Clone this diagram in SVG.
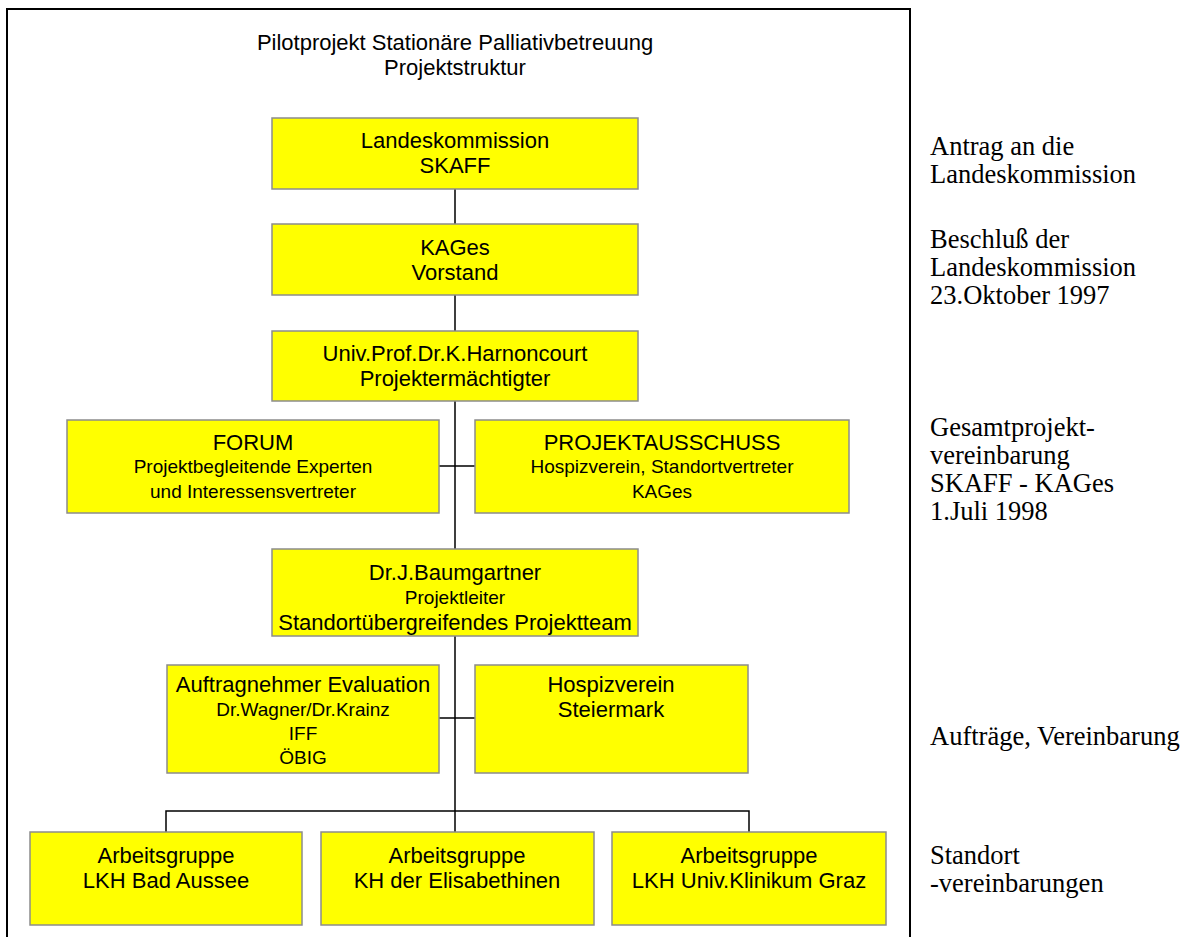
<svg xmlns="http://www.w3.org/2000/svg" width="1195" height="937" viewBox="0 0 1195 937">
<style>
.box{fill:#ffff00;stroke:#8c8c8c;stroke-width:1.5}
.t{font-family:"Liberation Sans",Arial,sans-serif;fill:#000;text-anchor:middle}
.m{font-size:22px}
.s{font-size:19px}
.r{font-family:"Liberation Serif","Times New Roman",serif;font-size:26.5px;fill:#000}
.c{stroke:#000;stroke-width:1.5;fill:none}
</style>
<rect x="7" y="9" width="903" height="940" fill="#fff" stroke="#000" stroke-width="2"/>
<text class="t m" x="455" y="50">Pilotprojekt Stationäre Palliativbetreuung</text>
<text class="t m" x="455" y="75">Projektstruktur</text>
<g id="connectors">
<path class="c" d="M455 189V224M455 295V331M455 401V832M439 466H475M439 718H475M166 832V811H749V832"/>
</g>
<g id="n1"><rect class="box" x="272" y="118" width="366" height="71"/>
<text class="t m" x="455" y="148">Landeskommission</text><text class="t m" x="455" y="173">SKAFF</text></g>
<g id="n2"><rect class="box" x="272" y="224" width="366" height="71"/>
<text class="t m" x="455" y="255">KAGes</text><text class="t m" x="455" y="280">Vorstand</text></g>
<g id="n3"><rect class="box" x="272" y="331" width="366" height="70"/>
<text class="t m" x="455" y="361">Univ.Prof.Dr.K.Harnoncourt</text><text class="t m" x="455" y="386">Projektermächtigter</text></g>
<g id="n4"><rect class="box" x="67" y="420" width="372" height="93"/>
<text class="t m" x="253" y="450">FORUM</text><text class="t s" x="253" y="473">Projektbegleitende Experten</text><text class="t s" x="253" y="498">und Interessensvertreter</text></g>
<g id="n5"><rect class="box" x="475" y="420" width="374" height="93"/>
<text class="t m" x="662" y="450">PROJEKTAUSSCHUSS</text><text class="t s" x="662" y="473">Hospizverein, Standortvertreter</text><text class="t s" x="662" y="498">KAGes</text></g>
<g id="n6"><rect class="box" x="272" y="549" width="366" height="87"/>
<text class="t m" x="455" y="580">Dr.J.Baumgartner</text><text class="t s" x="455" y="604">Projektleiter</text><text class="t m" x="455" y="630">Standortübergreifendes Projektteam</text></g>
<g id="n7"><rect class="box" x="167" y="665" width="272" height="108"/>
<text class="t m" x="303" y="692">Auftragnehmer Evaluation</text><text class="t s" x="303" y="716">Dr.Wagner/Dr.Krainz</text><text class="t s" x="303" y="740">IFF</text><text class="t s" x="303" y="764">ÖBIG</text></g>
<g id="n8"><rect class="box" x="475" y="665" width="273" height="108"/>
<text class="t m" x="611" y="692">Hospizverein</text><text class="t m" x="611" y="717">Steiermark</text></g>
<g id="n9"><rect class="box" x="30" y="832" width="272" height="93"/>
<text class="t m" x="166" y="863">Arbeitsgruppe</text><text class="t m" x="166" y="888">LKH Bad Aussee</text></g>
<g id="n10"><rect class="box" x="321" y="832" width="273" height="93"/>
<text class="t m" x="457" y="863">Arbeitsgruppe</text><text class="t m" x="457" y="888">KH der Elisabethinen</text></g>
<g id="n11"><rect class="box" x="612" y="832" width="274" height="93"/>
<text class="t m" x="749" y="863">Arbeitsgruppe</text><text class="t m" x="749" y="888">LKH Univ.Klinikum Graz</text></g>
<g id="notes">
<text class="r" x="930" y="155">Antrag an die</text><text class="r" x="930" y="183">Landeskommission</text>
<text class="r" x="930" y="248">Beschluß der</text><text class="r" x="930" y="276">Landeskommission</text><text class="r" x="930" y="304">23.Oktober 1997</text>
<text class="r" x="930" y="436">Gesamtprojekt-</text><text class="r" x="930" y="464">vereinbarung</text><text class="r" x="930" y="492">SKAFF - KAGes</text><text class="r" x="930" y="520">1.Juli 1998</text>
<text class="r" x="930" y="745">Aufträge, Vereinbarung</text>
<text class="r" x="930" y="864">Standort</text><text class="r" x="930" y="892">-vereinbarungen</text>
</g>
</svg>
